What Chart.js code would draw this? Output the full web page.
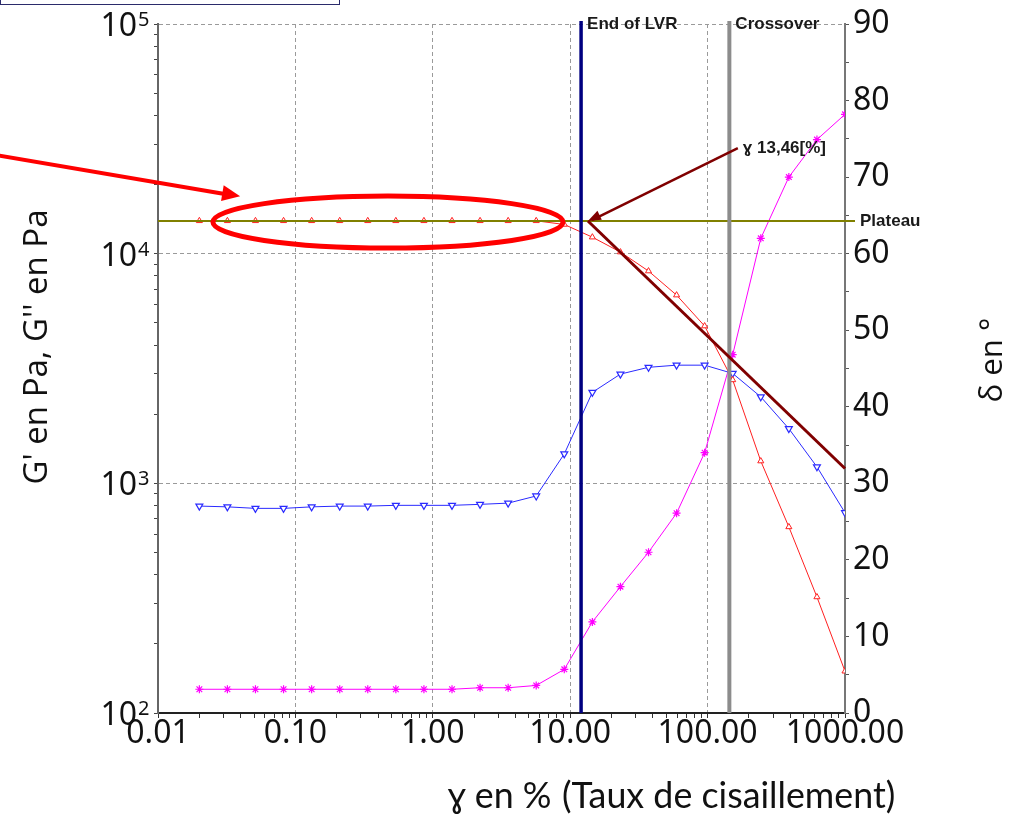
<!DOCTYPE html>
<html>
<head>
<meta charset="utf-8">
<script src="https://cdn.jsdelivr.net/npm/chart.js@4"></script>
<style>
html, body { margin: 0; padding: 0; background: #fff; }
canvas { display: block; }
</style>
</head>
<body>
<canvas id="chart" width="1017" height="816"></canvas>
<script>
'use strict';

// strain sweep, %
var STRAIN = [0.0200, 0.0320, 0.0512, 0.0820, 0.1313, 0.2102, 0.3363, 0.5384, 0.8619, 1.380, 2.208, 3.535,
	5.657, 9.057, 14.50, 23.21, 37.15, 59.46, 95.16, 152.3, 243.8, 390.3, 624.8, 1000];
// G' (Pa)
var G_STORAGE = [13900, 13900, 13900, 13900, 13900, 13900, 13900, 13900, 13900, 13900, 13900, 13900,
	13900, 13400, 11800, 10160, 8400, 6600, 4840, 2820, 1250, 646, 320, 152];
// G'' (Pa)
var G_LOSS = [796, 790, 778, 778, 790, 796, 796, 802, 802, 802, 810, 820,
	881, 1343, 2490, 2990, 3200, 3270, 3270, 3010, 2380, 1730, 1180, 745];
// phase angle, degrees
var DELTA = [3.1, 3.1, 3.1, 3.1, 3.1, 3.1, 3.1, 3.1, 3.1, 3.1, 3.3, 3.3,
	3.6, 5.7, 11.9, 16.5, 21.0, 26.1, 34.0, 46.8, 62.0, 70.0, 74.9, 78.2];

var X_DECADES = [0.01, 0.1, 1, 10, 100, 1000];
var Y_DECADES = [100, 1000, 10000, 100000];
var Y_EXPONENTS = ['2', '3', '4', '5'];

var END_LVR = 12;
var CROSSOVER = 144;
var PLATEAU = 13870;
var TANGENT_X = [13.46, 1000];
var TANGENT_Y = [13870, 1160];
var GAMMA_LABEL = 'ɣ 13,46[%]';
var GAMMA_LABEL_AT = {x: 166, y: 28800};
var RING_X = [0.0251, 8.86];
var RED_ARROW_TIP = {x: 0.0396, y: 17800};

var isDecade = function(v) {
	var l = Math.log10(v);
	return Math.abs(l - Math.round(l)) < 1e-6;
};

var withMinors = function(decades) {
	var out = [];
	for (var i = 0; i < decades.length - 1; i++) {
		for (var m = 1; m < 10; m++) out.push({value: decades[i] * m});
	}
	out.push({value: decades[decades.length - 1]});
	return out;
};

var points = function(ys) {
	return STRAIN.map(function(x, i) { return {x: x, y: ys[i]}; });
};

var line = function(c, x1, y1, x2, y2, color, width) {
	c.beginPath();
	c.moveTo(x1, y1);
	c.lineTo(x2, y2);
	c.strokeStyle = color;
	c.lineWidth = width;
	c.stroke();
};

var arrowHead = function(c, fromX, fromY, tipX, tipY, len, half, color) {
	var ang = Math.atan2(tipY - fromY, tipX - fromX);
	var bx = tipX - Math.cos(ang) * len, by = tipY - Math.sin(ang) * len;
	c.beginPath();
	c.moveTo(tipX, tipY);
	c.lineTo(bx + Math.sin(ang) * half, by - Math.cos(ang) * half);
	c.lineTo(bx - Math.sin(ang) * half, by + Math.cos(ang) * half);
	c.closePath();
	c.fillStyle = color;
	c.fill();
};

var fitFont = function(c, text, weight, family, width) {
	c.font = weight + ' 100px ' + family;
	var size = 100 * width / c.measureText(text).width;
	return weight + ' ' + size.toFixed(1) + 'px ' + family;
};

var overlay = {
	id: 'overlay',
	afterDatasetsDraw: function(chart) {
		var c = chart.ctx, a = chart.chartArea;
		var xs = chart.scales.x, ys = chart.scales.y;
		c.save();
		var py = ys.getPixelForValue(PLATEAU);
		line(c, a.left, py, a.right + 10, py, '#808000', 2);
		var lx = xs.getPixelForValue(END_LVR);
		line(c, lx, a.top - 3, lx, a.bottom, '#000080', 3.5);
		var cx = xs.getPixelForValue(CROSSOVER);
		line(c, cx, a.top - 3, cx, a.bottom, '#8c8c8c', 4);
		line(c, xs.getPixelForValue(TANGENT_X[0]), ys.getPixelForValue(TANGENT_Y[0]),
			xs.getPixelForValue(TANGENT_X[1]), ys.getPixelForValue(TANGENT_Y[1]), '#800000', 3);
		c.restore();
	},
	afterDraw: function(chart) {
		var c = chart.ctx, a = chart.chartArea;
		var xs = chart.scales.x, ys = chart.scales.y;
		c.save();

		// left decade labels with exponent
		c.fillStyle = '#111';
		Y_DECADES.forEach(function(v, i) {
			var y = ys.getPixelForValue(v);
			c.font = '32px "Noto Sans"';
			c.textAlign = 'right';
			c.textBaseline = 'alphabetic';
			c.fillText('10', 137, y + 12);
			c.font = '20px "Noto Sans"';
			c.textAlign = 'left';
			c.fillText(Y_EXPONENTS[i], 138, y + 2);
		});

		// line labels
		c.font = 'bold 17px "Liberation Sans"';
		c.fillStyle = '#1a1a1a';
		c.textAlign = 'left';
		c.textBaseline = 'middle';
		c.fillText('End of LVR', xs.getPixelForValue(END_LVR) + 6, a.top);
		c.fillText('Crossover', xs.getPixelForValue(CROSSOVER) + 6, a.top);
		c.fillText('Plateau', a.right + 15, ys.getPixelForValue(PLATEAU));

		// gamma arrow
		var tipX = xs.getPixelForValue(TANGENT_X[0]), tipY = ys.getPixelForValue(PLATEAU);
		var gx = xs.getPixelForValue(GAMMA_LABEL_AT.x), gy = ys.getPixelForValue(GAMMA_LABEL_AT.y);
		line(c, gx, gy, tipX + 4, tipY - 1, '#800000', 2.5);
		arrowHead(c, gx, gy, tipX, tipY, 13, 5, '#800000');
		c.fillStyle = '#1a1a1a';
		c.fillText(GAMMA_LABEL, gx + 5, gy);

		// red ring around the plateau
		var r1 = xs.getPixelForValue(RING_X[0]), r2 = xs.getPixelForValue(RING_X[1]);
		c.beginPath();
		c.ellipse((r1 + r2) / 2, tipY + 1, (r2 - r1) / 2, 26, 0, 0, Math.PI * 2);
		c.strokeStyle = '#ff0000';
		c.lineWidth = 5;
		c.stroke();

		// red pointer arrow
		var ax = xs.getPixelForValue(RED_ARROW_TIP.x), ay = ys.getPixelForValue(RED_ARROW_TIP.y);
		line(c, ax - 250, ay - 42, ax - 14, ay - 2, '#ff0000', 4);
		arrowHead(c, ax - 250, ay - 42, ax, ay, 18, 8, '#ff0000');

		// cropped box at top-left
		c.strokeStyle = '#2b2b6b';
		c.lineWidth = 1;
		c.strokeRect(0.5, -6, 339, 10.5);

		// axis titles
		c.fillStyle = '#111';
		c.textBaseline = 'alphabetic';
		c.save();
		c.translate(47, 347);
		c.rotate(-Math.PI / 2);
		c.textAlign = 'center';
		c.font = fitFont(c, "G' en Pa, G'' en Pa", 'normal', '"Open Sans"', 275);
		c.fillText("G' en Pa, G'' en Pa", 0, 0);
		c.restore();

		c.save();
		c.translate(1002, 360);
		c.rotate(-Math.PI / 2);
		c.textAlign = 'center';
		c.font = fitFont(c, 'δ en °', 'normal', '"Open Sans"', 85);
		c.fillText('δ en °', 0, 0);
		c.restore();

		c.textAlign = 'left';
		c.font = fitFont(c, '(Taux de cisaillement)', 'normal', 'Lato', 333);
		c.fillText('ɣ en %', 448, 808);
		c.fillText('(Taux de cisaillement)', 562, 808);

		c.restore();
	}
};

var zeroPad = function(s) {
	s.paddingTop = 0; s.paddingBottom = 0; s.paddingLeft = 0; s.paddingRight = 0;
};

var ctx = document.getElementById('chart').getContext('2d');
var chart = new Chart(ctx, {
	type: 'line',
	data: {
		datasets: [{
			label: "G'",
			data: points(G_STORAGE),
			yAxisID: 'y',
			borderColor: '#ff2020',
			borderWidth: 1,
			pointStyle: 'triangle',
			pointRadius: 3.5,
			pointBorderColor: '#ff2020',
			pointBackgroundColor: '#fff',
			pointBorderWidth: 1
		}, {
			label: "G''",
			data: points(G_LOSS),
			yAxisID: 'y',
			borderColor: '#2a2aff',
			borderWidth: 1,
			pointStyle: 'triangle',
			rotation: 180,
			pointRadius: 4,
			pointBorderColor: '#2a2aff',
			pointBackgroundColor: '#fff',
			pointBorderWidth: 1.2
		}, {
			label: 'δ',
			data: points(DELTA),
			yAxisID: 'y1',
			borderColor: '#ff00ff',
			borderWidth: 1,
			pointStyle: 'star',
			pointRadius: 4,
			pointBorderColor: '#ff00ff',
			pointBorderWidth: 1.2
		}]
	},
	options: {
		responsive: false,
		animation: false,
		layout: {padding: {top: 24, left: 0, right: 0, bottom: 0}},
		plugins: {
			legend: {display: false},
			tooltip: {enabled: false}
		},
		scales: {
			x: {
				type: 'logarithmic',
				position: 'bottom',
				min: 0.01,
				max: 1000,
				afterBuildTicks: function(s) { s.ticks = withMinors(X_DECADES); },
				afterFit: function(s) { s.height = 103; zeroPad(s); },
				grid: {
					color: function(c) { return c.tick && isDecade(c.tick.value) ? '#9a9a9a' : 'rgba(0,0,0,0)'; },
					tickColor: '#333',
					tickLength: 5,
					lineWidth: 1
				},
				border: {color: '#222', width: 2, dash: [4, 3]},
				ticks: {
					autoSkip: false,
					maxRotation: 0,
					padding: 0,
					color: '#111',
					font: {family: 'Noto Sans', size: 32, lineHeight: 1},
					callback: function(v) { return isDecade(v) ? Number(v).toFixed(2) : ''; }
				}
			},
			y: {
				type: 'logarithmic',
				position: 'left',
				min: 100,
				max: 100000,
				afterBuildTicks: function(s) { s.ticks = withMinors(Y_DECADES); },
				afterFit: function(s) { s.width = 158; zeroPad(s); },
				grid: {
					color: function(c) { return c.tick && isDecade(c.tick.value) ? '#9a9a9a' : 'rgba(0,0,0,0)'; },
					tickColor: '#444',
					tickLength: 4
				},
				border: {color: '#666', width: 2, dash: [4, 3]},
				ticks: {display: false}
			},
			y1: {
				type: 'linear',
				position: 'right',
				min: 0,
				max: 90,
				afterFit: function(s) { s.width = 172; zeroPad(s); },
				grid: {drawOnChartArea: false, tickColor: '#555', tickLength: 4},
				border: {color: '#777', width: 2},
				ticks: {
					stepSize: 5,
					padding: 4,
					color: '#111',
					font: {family: 'Noto Sans', size: 32, lineHeight: 1},
					callback: function(v) { return v % 10 === 0 ? String(v) : ''; }
				}
			}
		}
	},
	plugins: [overlay]
});
</script>
</body>
</html>
